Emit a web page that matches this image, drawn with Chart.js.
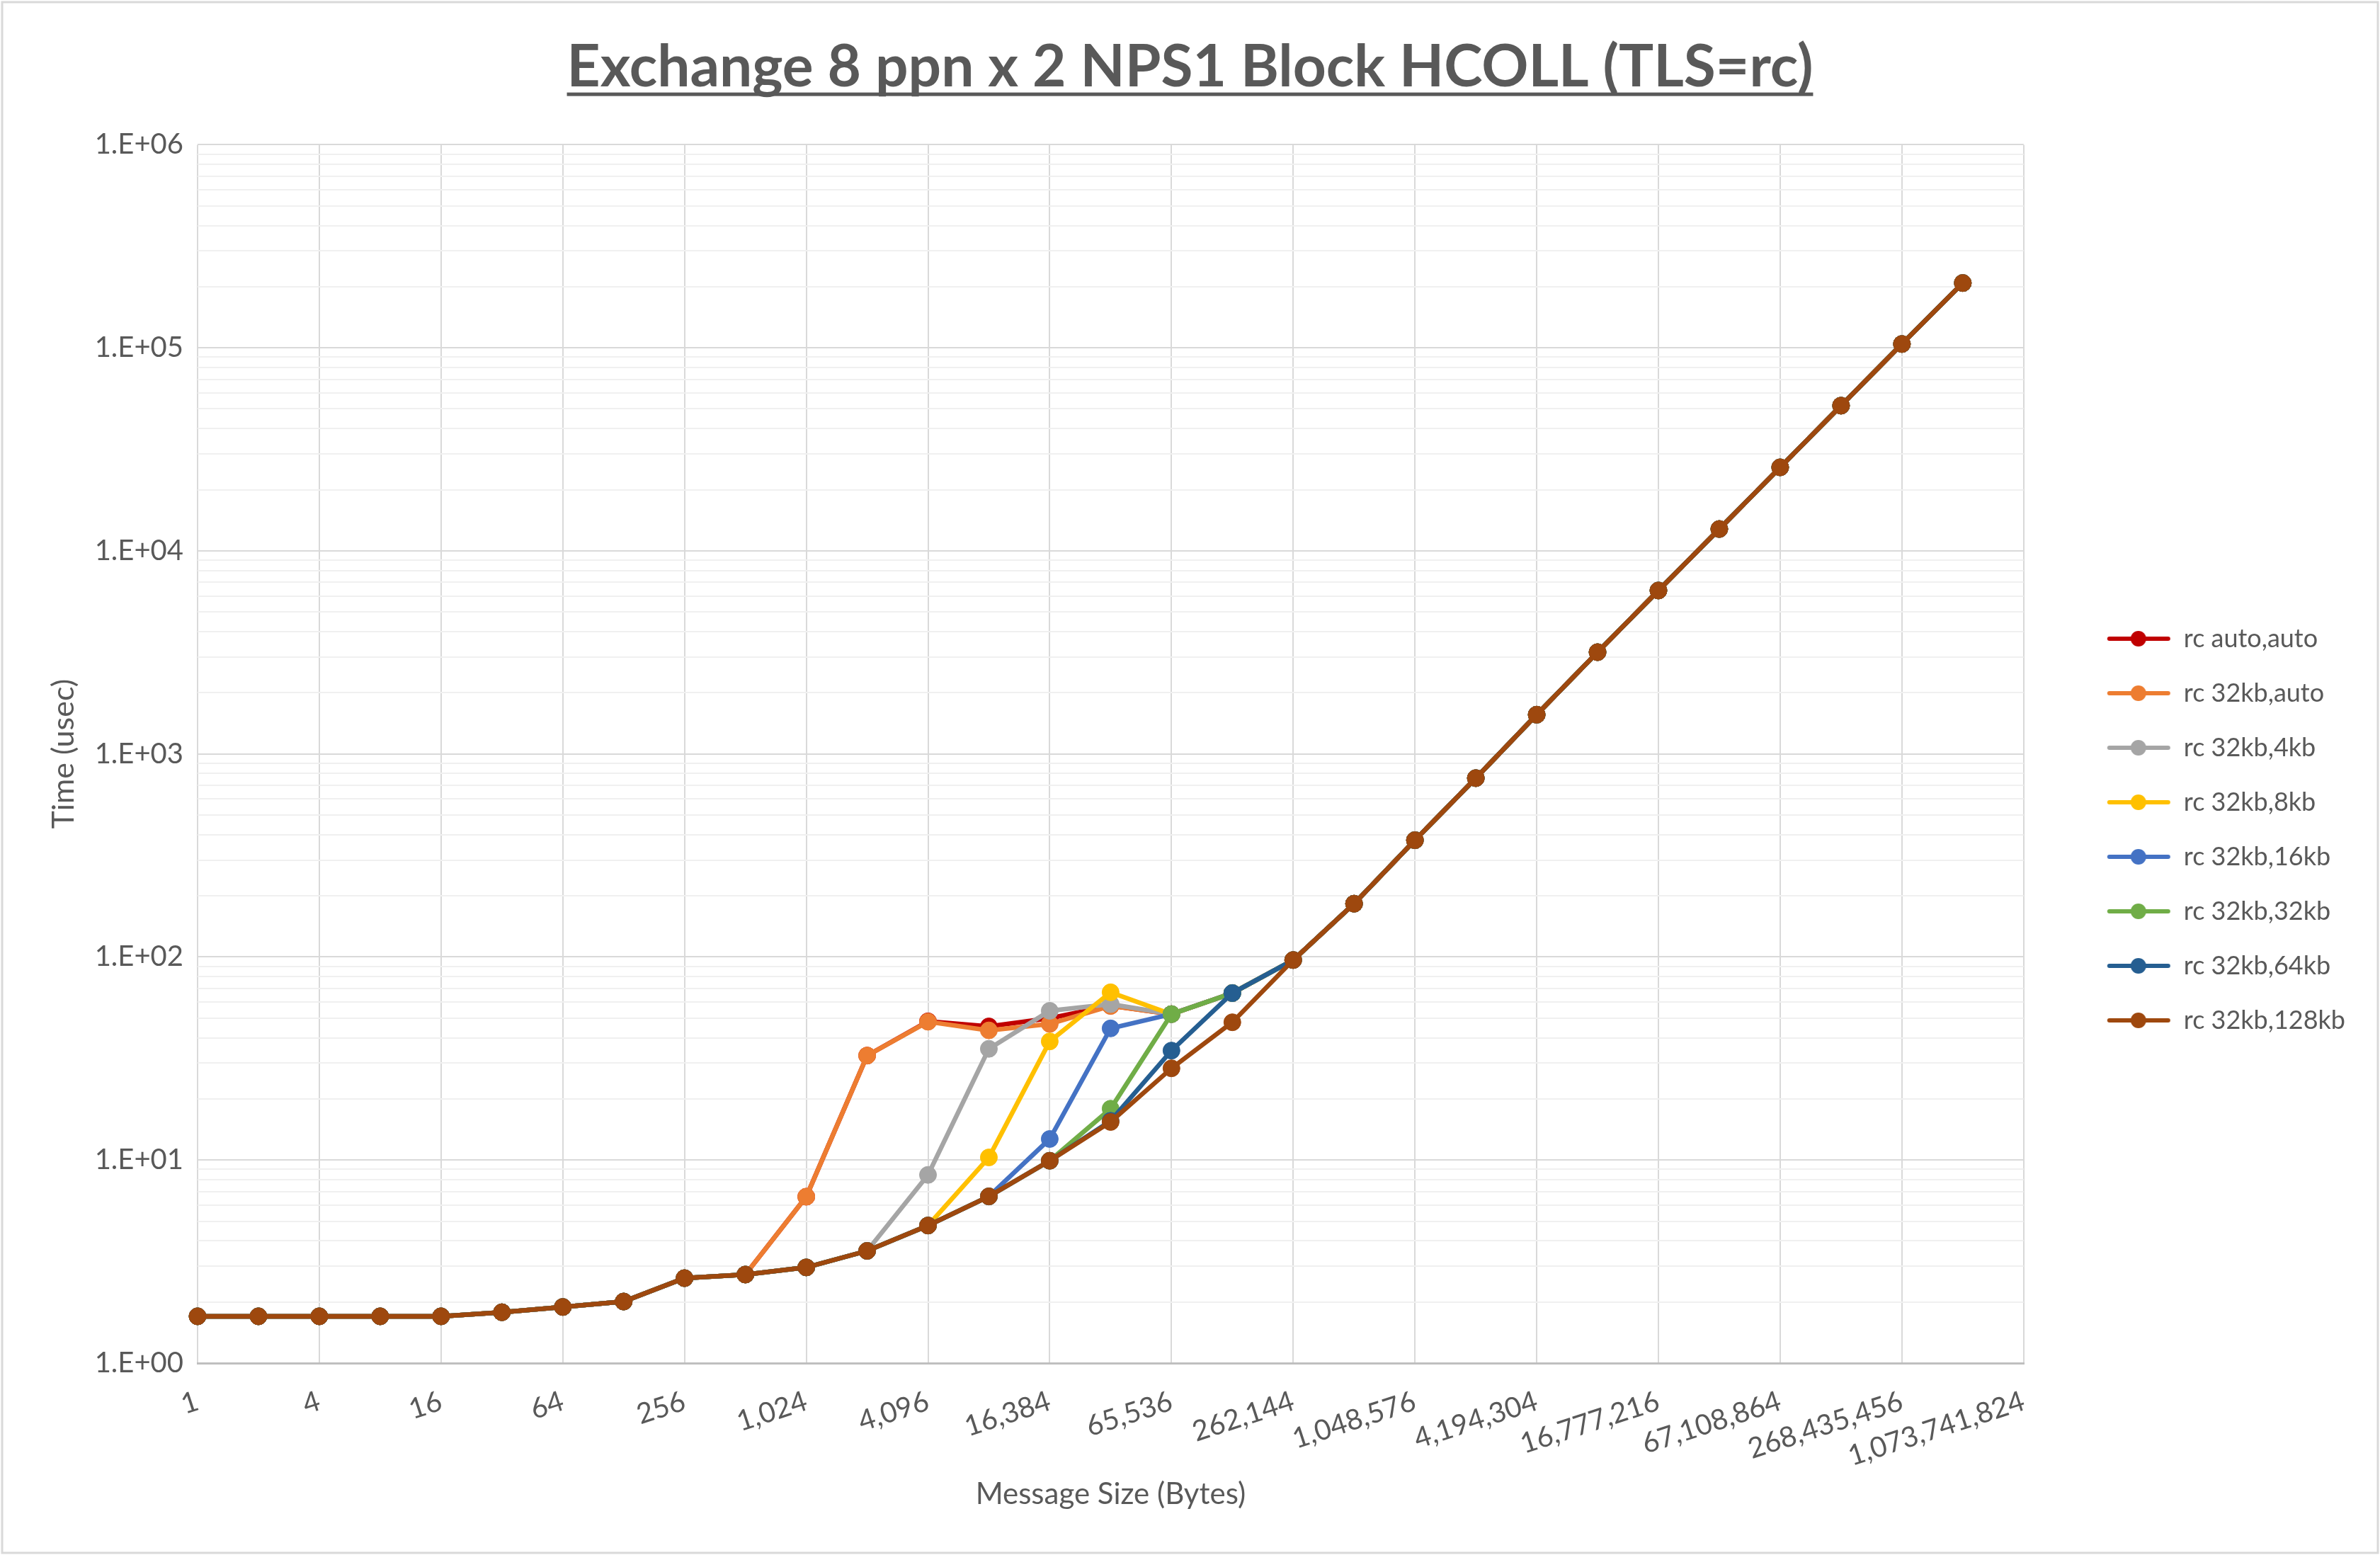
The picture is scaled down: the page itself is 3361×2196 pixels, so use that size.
<!DOCTYPE html>
<html>
<head>
<meta charset="utf-8">
<title>Exchange 8 ppn x 2 NPS1 Block HCOLL (TLS=rc)</title>
<script src="https://cdn.jsdelivr.net/npm/chart.js@4.4.1/dist/chart.umd.min.js"></script>
<style>
  html, body { margin: 0; padding: 0; background: #fff; }
  #wrap { width: 3361px; height: 2196px; position: relative; }
</style>
</head>
<body>
<div id="wrap"><canvas id="chart"></canvas></div>
<script>
// message sizes (bytes), one category per power of two
const sizeLabels = ['1', '2', '4', '8', '16', '32', '64', '128', '256', '512',
  '1,024', '2,048', '4,096', '8,192', '16,384', '32,768', '65,536', '131,072', '262,144', '524,288',
  '1,048,576', '2,097,152', '4,194,304', '8,388,608', '16,777,216', '33,554,432', '67,108,864',
  '134,217,728', '268,435,456', '536,870,912', '1,073,741,824'];

// time in usec
const rcAutoAuto = [1.70, 1.70, 1.70, 1.70, 1.70, 1.78, 1.89, 2.01, 2.62, 2.73, 6.6, 32.7, 48.2, 45.5, 49.9, 57.5, 52.3, 66.4, 96.6, 183, 376, 760, 1560, 3170, 6380, 12810, 25780, 51900, 104400, 208500, null];
const rc32kbAuto = [1.70, 1.70, 1.70, 1.70, 1.70, 1.78, 1.89, 2.01, 2.62, 2.73, 6.6, 32.7, 48.0, 43.5, 46.8, 57.4, 52.3, 66.4, 96.6, 183, 376, 760, 1560, 3170, 6380, 12810, 25780, 51900, 104400, 208500, null];
const rc32kb4kb = [1.70, 1.70, 1.70, 1.70, 1.70, 1.78, 1.89, 2.01, 2.62, 2.73, 2.96, 3.57, 8.45, 35.3, 54.3, 58.6, 52.3, 66.4, 96.6, 183, 376, 760, 1560, 3170, 6380, 12810, 25780, 51900, 104400, 208500, null];
const rc32kb8kb = [1.70, 1.70, 1.70, 1.70, 1.70, 1.78, 1.89, 2.01, 2.62, 2.73, 2.96, 3.57, 4.76, 10.3, 38.4, 67.0, 52.3, 66.4, 96.6, 183, 376, 760, 1560, 3170, 6380, 12810, 25780, 51900, 104400, 208500, null];
const rc32kb16kb = [1.70, 1.70, 1.70, 1.70, 1.70, 1.78, 1.89, 2.01, 2.62, 2.73, 2.96, 3.57, 4.76, 6.62, 12.7, 44.5, 52.3, 66.4, 96.6, 183, 376, 760, 1560, 3170, 6380, 12810, 25780, 51900, 104400, 208500, null];
const rc32kb32kb = [1.70, 1.70, 1.70, 1.70, 1.70, 1.78, 1.89, 2.01, 2.62, 2.73, 2.96, 3.57, 4.76, 6.62, 9.92, 17.9, 52.3, 66.4, 96.6, 183, 376, 760, 1560, 3170, 6380, 12810, 25780, 51900, 104400, 208500, null];
const rc32kb64kb = [1.70, 1.70, 1.70, 1.70, 1.70, 1.78, 1.89, 2.01, 2.62, 2.73, 2.96, 3.57, 4.76, 6.62, 9.92, 15.6, 34.6, 66.4, 96.6, 183, 376, 760, 1560, 3170, 6380, 12810, 25780, 51900, 104400, 208500, null];
const rc32kb128kb = [1.70, 1.70, 1.70, 1.70, 1.70, 1.78, 1.89, 2.01, 2.62, 2.73, 2.96, 3.57, 4.76, 6.62, 9.92, 15.4, 28.3, 47.7, 96.6, 183, 376, 760, 1560, 3170, 6380, 12810, 25780, 51900, 104400, 208500, null];

const seriesNames = ['rc auto,auto', 'rc 32kb,auto', 'rc 32kb,4kb', 'rc 32kb,8kb',
  'rc 32kb,16kb', 'rc 32kb,32kb', 'rc 32kb,64kb', 'rc 32kb,128kb'];
const seriesData = [rcAutoAuto, rc32kbAuto, rc32kb4kb, rc32kb8kb, rc32kb16kb, rc32kb32kb, rc32kb64kb, rc32kb128kb];
const seriesColors = ['#C00000', '#ED7D31', '#A5A5A5', '#FFC000', '#4472C4', '#70AD47', '#255E91', '#9E480E'];

const yMajorTicks = [1, 10, 100, 1000, 10000, 100000, 1000000];
const yTickLabels = ['1.E+00', '1.E+01', '1.E+02', '1.E+03', '1.E+04', '1.E+05', '1.E+06'];

const TEXT = '#595959';
const FONT = 'Lato';
const PAD = 39;
const PLOT_LEFT = 279;
const PLOT_BOTTOM = 1925;
const H = 2196;
const SWATCH_W = 167;

// legend swatch: short line with a dot in the middle (excel style)
function legendSwatch(color) {
    const c = document.createElement('canvas');
    c.width = SWATCH_W;
    c.height = 30;
    const g = c.getContext('2d');
    g.strokeStyle = color;
    g.lineWidth = 6;
    g.lineCap = 'round';
    g.beginPath();
    g.moveTo(80, 15);
    g.lineTo(163, 15);
    g.stroke();
    g.fillStyle = color;
    g.beginPath();
    g.arc(121, 15, 11, 0, Math.PI * 2);
    g.fill();
    return c;
}

const frame = {
    id: 'frame',
    beforeDraw(chart) {
        const ctx = chart.ctx;
        ctx.save();
        ctx.fillStyle = '#fff';
        ctx.fillRect(0, 0, chart.width, chart.height);
        ctx.strokeStyle = '#d9d9d9';
        ctx.lineWidth = 3;
        ctx.strokeRect(3, 3, chart.width - 6, chart.height - 6);
        ctx.restore();
    }
};

const titleUnderline = {
    id: 'titleUnderline',
    afterDraw(chart) {
        const tb = chart.titleBlock;
        const opts = chart.options.plugins.title;
        const ctx = chart.ctx;
        ctx.save();
        ctx.font = 'bold ' + opts.font.size + 'px ' + FONT;
        ctx.textBaseline = 'middle';
        const w = ctx.measureText(opts.text).width;
        const cx = (tb.left + tb.right) / 2;
        const midY = tb.top + opts.padding.top + opts.font.size * 1.2 / 2;
        const baseY = midY + ctx.measureText('E').actualBoundingBoxDescent;
        ctx.fillStyle = TEXT;
        ctx.fillRect(cx - w / 2, baseY + 9, w, 5);
        ctx.restore();
    }
};

const ctx = document.getElementById('chart').getContext('2d');

new Chart(ctx, {
    type: 'line',
    data: {
        labels: sizeLabels,
        datasets: seriesData.map((d, i) => ({
            label: seriesNames[i],
            data: d,
            borderColor: seriesColors[i],
            backgroundColor: seriesColors[i],
            pointBackgroundColor: seriesColors[i],
            pointBorderColor: seriesColors[i],
            borderWidth: 6.5,
            pointRadius: 12,
            pointBorderWidth: 1,
            tension: 0,
            order: seriesData.length - i
        }))
    },
    options: {
        responsive: true,
        maintainAspectRatio: false,
        animation: false,
        layout: { padding: { left: PAD, right: PAD, top: 0, bottom: PAD } },
        plugins: {
            title: {
                display: true,
                text: 'Exchange 8 ppn x 2 NPS1 Block HCOLL (TLS=rc)',
                color: TEXT,
                font: { family: FONT, size: 82, weight: 'bold' },
                padding: { top: 46, bottom: 60 }
            },
            legend: {
                position: 'right',
                align: 'center',
                title: { display: true, text: '', font: { size: 10 }, padding: { top: 174, bottom: 0 } },
                labels: {
                    color: TEXT,
                    font: { family: FONT, size: 36 },
                    padding: 41,
                    usePointStyle: true,
                    pointStyleWidth: SWATCH_W,
                    generateLabels(chart) {
                        return chart.data.datasets.map((ds, i) => ({
                            text: ds.label,
                            pointStyle: legendSwatch(seriesColors[i]),
                            fillStyle: seriesColors[i],
                            strokeStyle: seriesColors[i],
                            lineWidth: 0,
                            fontColor: TEXT,
                            hidden: !chart.isDatasetVisible(i),
                            datasetIndex: i
                        }));
                    }
                }
            },
            tooltip: { enabled: false }
        },
        scales: {
            x: {
                type: 'category',
                offset: false,
                afterFit(scale) { scale.height = H - PAD - PLOT_BOTTOM; },
                grid: {
                    drawTicks: false,
                    lineWidth: 2,
                    color: (c) => (c.index % 2 === 0 ? '#d9d9d9' : 'rgba(0,0,0,0)')
                },
                border: { color: '#bfbfbf', width: 3 },
                ticks: {
                    autoSkip: false,
                    minRotation: 18,
                    maxRotation: 18,
                    padding: 30,
                    color: TEXT,
                    font: { family: FONT, size: 40 },
                    callback: (v, i) => (i % 2 === 0 ? sizeLabels[i] : '')
                },
                title: {
                    display: true,
                    text: 'Message Size (Bytes)',
                    color: TEXT,
                    font: { family: FONT, size: 42 },
                    padding: { top: 0, bottom: 21 }
                }
            },
            y: {
                type: 'logarithmic',
                min: 1,
                max: 1000000,
                afterFit(scale) { scale.width = PLOT_LEFT - PAD; },
                afterBuildTicks(scale) {
                    const t = [];
                    yMajorTicks.forEach((m, i) => {
                        t.push({ value: m, major: true });
                        if (i < yMajorTicks.length - 1) {
                            for (let k = 2; k <= 9; k++) t.push({ value: m * k });
                        }
                    });
                    scale.ticks = t;
                },
                grid: {
                    drawTicks: false,
                    lineWidth: 2,
                    color: (c) => (c.tick && yMajorTicks.includes(c.tick.value) ? '#d9d9d9' : '#f0f0f0')
                },
                border: { display: false },
                ticks: {
                    autoSkip: false,
                    padding: 20,
                    color: TEXT,
                    font: { family: FONT, size: 40 },
                    callback: (v) => {
                        const i = yMajorTicks.indexOf(v);
                        return i >= 0 ? yTickLabels[i] : '';
                    }
                },
                title: {
                    display: true,
                    text: 'Time (usec)',
                    color: TEXT,
                    font: { family: FONT, size: 43 },
                    padding: { top: 25, bottom: 0 }
                }
            }
        }
    },
    plugins: [frame, titleUnderline]
});
</script>
</body>
</html>
